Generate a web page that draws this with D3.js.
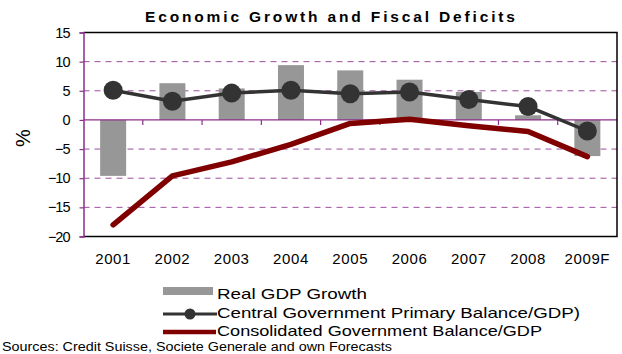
<!DOCTYPE html>
<html>
<head>
<meta charset="utf-8">
<script src="https://cdn.jsdelivr.net/npm/d3@7"></script>
<style>
  body { margin: 0; background: #fff; }
  svg { display: block; font-family: "Liberation Sans", Arial, sans-serif; }
</style>
</head>
<body>
<div id="chart"></div>
<script>
const years = ["2001", "2002", "2003", "2004", "2005", "2006", "2007", "2008", "2009F"];
const gdpGrowth = [-9.6, 6.3, 5.4, 9.4, 8.5, 6.9, 4.8, 0.8, -6.2];
const centralBalance = [5.1, 3.2, 4.6, 5.1, 4.5, 4.8, 3.5, 2.3, -1.9];
const consolidatedBalance = [-18.0, -9.6, -7.2, -4.2, -0.6, 0.1, -1.0, -2.0, -6.3];
const yTicks = [15, 10, 5, 0, -5, -10, -15, -20];

const width = 622, height = 354;
const margin = { top: 32.5, right: 5, bottom: 117.5, left: 83.5 };
const innerW = width - margin.left - margin.right;
const innerH = height - margin.top - margin.bottom;

const purple = "#8b2f8b";

const svg = d3.select("#chart").append("svg")
    .attr("width", width)
    .attr("height", height);

svg.append("text")
    .attr("x", 145)
    .attr("y", 22)
    .attr("font-size", 15.5)
    .attr("font-weight", "bold")
    .attr("textLength", 370)
    .attr("lengthAdjust", "spacing")
    .text("Economic Growth and Fiscal Deficits");

const g = svg.append("g").attr("transform", `translate(${margin.left},${margin.top})`);

const x = d3.scaleBand().domain(years).range([0, innerW]);
const y = d3.scaleLinear().domain([-20, 15]).range([innerH, 0]);
const cx = d => x(d) + x.bandwidth() / 2;

// dashed grid
g.selectAll("line.grid").data(yTicks.filter(t => t !== 0 && t !== 15 && t !== -20)).enter()
  .append("line")
    .attr("class", "grid")
    .attr("x1", 0).attr("x2", innerW)
    .attr("y1", d => y(d)).attr("y2", d => y(d))
    .attr("stroke", purple)
    .attr("stroke-opacity", 0.85)
    .attr("stroke-width", 1)
    .attr("stroke-dasharray", "6,5");

// bars
const barW = 26;
g.selectAll("rect.bar").data(years).enter().append("rect")
    .attr("class", "bar")
    .attr("x", d => cx(d) - barW / 2)
    .attr("y", (d, i) => y(Math.max(0, gdpGrowth[i])))
    .attr("width", barW)
    .attr("height", (d, i) => Math.abs(y(gdpGrowth[i]) - y(0)))
    .attr("fill", "#979797");

// zero line with category ticks
g.append("line")
    .attr("x1", 0).attr("x2", innerW)
    .attr("y1", y(0)).attr("y2", y(0))
    .attr("stroke", purple).attr("stroke-width", 1.2);
g.selectAll("line.ztick").data(years.slice(1)).enter().append("line")
    .attr("x1", d => x(d)).attr("x2", d => x(d))
    .attr("y1", y(0)).attr("y2", y(0) + 5)
    .attr("stroke", purple).attr("stroke-width", 1.2);

// border: top, right, bottom black
g.append("path")
    .attr("d", `M0,0H${innerW}V${innerH}H0`)
    .attr("fill", "none")
    .attr("stroke", "#000")
    .attr("stroke-width", 1.5);

// left axis
const yAxis = g.append("g")
    .call(d3.axisLeft(y).tickValues(yTicks).tickSize(4).tickPadding(10));
yAxis.select(".domain").attr("stroke", purple).attr("stroke-width", 1.5);
yAxis.selectAll(".tick line").attr("stroke", purple).attr("stroke-width", 1.2);
yAxis.selectAll(".tick text")
    .attr("fill", "#000")
    .attr("font-size", 14.5)
    .attr("letter-spacing", "-1px")
    .attr("font-family", "'Liberation Sans', Arial, sans-serif");

// x labels
g.selectAll("text.xl").data(years).enter().append("text")
    .attr("x", d => cx(d))
    .attr("y", 264 - margin.top)
    .attr("text-anchor", "middle")
    .attr("font-size", 15)
    .attr("letter-spacing", "0.6px")
    .text(d => d);

// consolidated line
const line = d3.line().x(d => cx(d[0])).y(d => y(d[1]));
g.append("path")
    .datum(years.map((d, i) => [d, consolidatedBalance[i]]))
    .attr("d", line)
    .attr("fill", "none")
    .attr("stroke", "#800000")
    .attr("stroke-width", 5.5)
    .attr("stroke-linecap", "round")
    .attr("stroke-linejoin", "round");

// central line + markers
g.append("path")
    .datum(years.map((d, i) => [d, centralBalance[i]]))
    .attr("d", line)
    .attr("fill", "none")
    .attr("stroke", "#333333")
    .attr("stroke-width", 3.5);
g.selectAll("circle.pt").data(years).enter().append("circle")
    .attr("cx", d => cx(d))
    .attr("cy", (d, i) => y(centralBalance[i]))
    .attr("r", 9.5)
    .attr("fill", "#333333");

// y title
svg.append("text")
    .attr("transform", "translate(30,138) rotate(-90)")
    .attr("text-anchor", "middle")
    .attr("font-size", 20)
    .text("%");

// legend
const lg = svg.append("g");
lg.append("rect").attr("x", 163).attr("y", 287).attr("width", 50).attr("height", 8).attr("fill", "#979797");
lg.append("line").attr("x1", 163).attr("x2", 217).attr("y1", 314).attr("y2", 314)
    .attr("stroke", "#333333").attr("stroke-width", 3);
lg.append("circle").attr("cx", 190).attr("cy", 314).attr("r", 5.5).attr("fill", "#333333");
lg.append("line").attr("x1", 163).attr("x2", 216).attr("y1", 332).attr("y2", 332)
    .attr("stroke", "#800000").attr("stroke-width", 4.5);

const legendItems = [
  { text: "Real GDP Growth", yy: 299, len: 150 },
  { text: "Central Government Primary Balance/GDP)", yy: 317.5, len: 363 },
  { text: "Consolidated Government Balance/GDP", yy: 336, len: 325 }
];
lg.selectAll("text").data(legendItems).enter().append("text")
    .attr("x", 217)
    .attr("y", d => d.yy)
    .attr("font-size", 15)
    .attr("textLength", d => d.len)
    .attr("lengthAdjust", "spacingAndGlyphs")
    .text(d => d.text);

svg.append("text")
    .attr("x", 2)
    .attr("y", 351)
    .attr("font-size", 12)
    .attr("textLength", 390)
    .attr("lengthAdjust", "spacingAndGlyphs")
    .text("Sources: Credit Suisse, Societe Generale and own Forecasts");
</script>
</body>
</html>
